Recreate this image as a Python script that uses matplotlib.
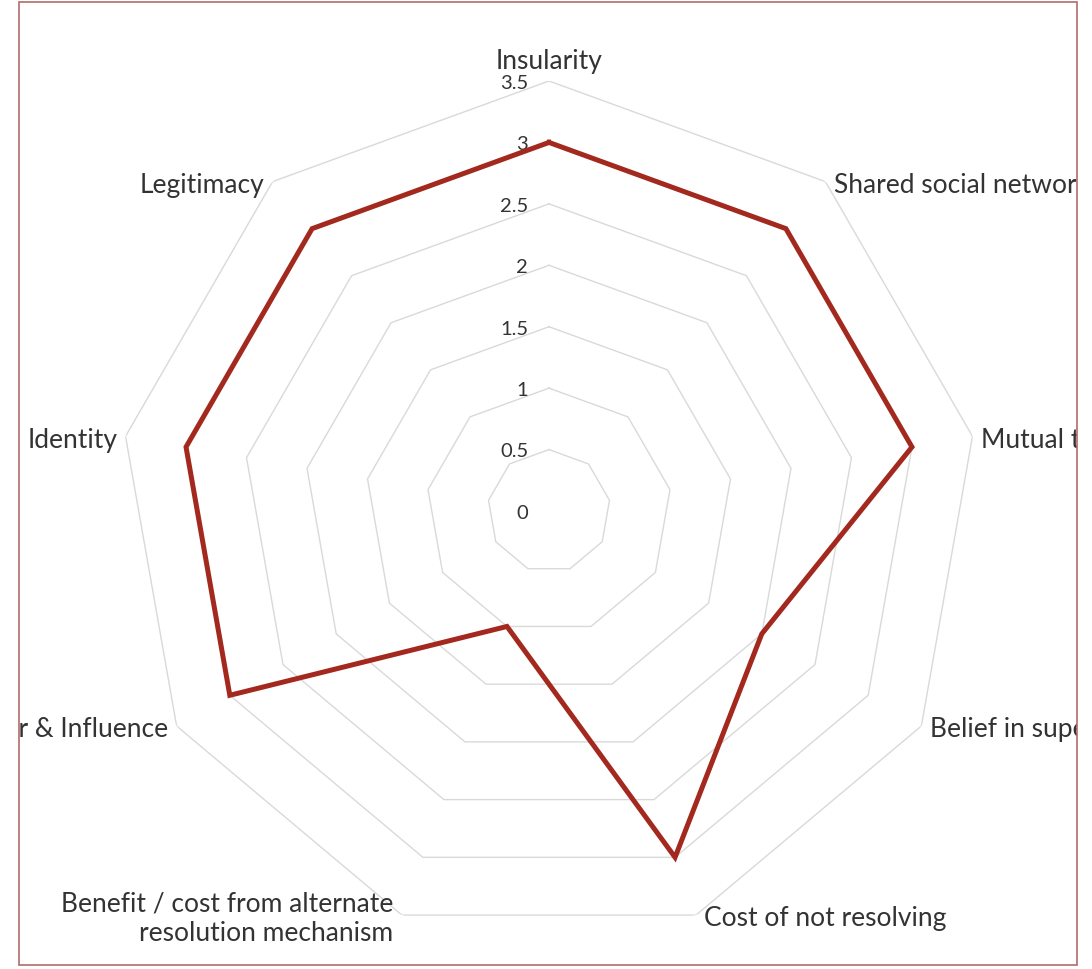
import numpy as np
import matplotlib
matplotlib.use('Agg')
import matplotlib.pyplot as plt
import matplotlib.patches as patches
from matplotlib.transforms import Bbox, TransformedBbox

plt.rcParams['font.family'] = ['Lato', 'DejaVu Sans']

# radar data, clockwise from the top
categories = ['Insularity', 'Shared social networks', 'Mutual trust',
              'Belief in superiority', 'Cost of not resolving',
              'Benefit / cost from alternate\nresolution mechanism',
              'Power & Influence', 'Identity', 'Legitimacy']
values = [3, 3, 3, 2, 3, 1, 3, 3, 3]
ticks = [0, 0.5, 1, 1.5, 2, 2.5, 3, 3.5]
tick_labels = ['0', '0.5', '1', '1.5', '2', '2.5', '3', '3.5']

W, H = 1092, 970
fig = plt.figure(figsize=(W / 100, H / 100), dpi=100)

# chart border (picture is cropped, labels clip at it)
bl, bt, br, bb = 19, 3, 1077, 966
border = Bbox([[bl / W, 1 - bb / H], [br / W, 1 - bt / H]])
fig.patches.append(patches.Rectangle((bl / W, 1 - bb / H), (br - bl) / W, (bb - bt) / H,
                                     transform=fig.transFigure, fill=False,
                                     edgecolor='#B36B68', linewidth=1.2))
clipbox = TransformedBbox(border, fig.transFigure)

cx, cy, R = 549, 512, 430
ax = fig.add_axes([(cx - R) / W, (H - cy - R) / H, 2 * R / W, 2 * R / H], projection='polar')
ax.set_theta_zero_location('N')
ax.set_theta_direction(-1)
ax.set_ylim(0, 3.5)
ax.grid(False)
ax.spines['polar'].set_visible(False)
ax.set_xticks([])
ax.set_yticks([])
ax.patch.set_alpha(0)

n = len(categories)
theta = np.arange(n) * 2 * np.pi / n
theta_c = np.append(theta, theta[0])

# polygon gridlines
for t in ticks[1:]:
    ax.plot(theta_c, [t] * (n + 1), color='#D9D9D9', linewidth=1.0, zorder=1)

# tick labels along the vertical axis
for t, lab in zip(ticks, tick_labels):
    ax.annotate(lab, xy=(0, t), xytext=(-15, -1), textcoords='offset points',
                ha='right', va='center', fontsize=14.5, color='#333333')

# data line
vals_c = values + [values[0]]
ax.plot(theta_c, vals_c, color='#A3291F', linewidth=3.6, solid_joinstyle='miter', zorder=3)

# category labels
for th, lab in zip(theta, categories):
    deg = np.degrees(th)
    if abs(deg) < 1:
        off, ha, va = (0, 6), 'center', 'bottom'
    elif deg < 180:
        off, ha, va = (6, -2), 'left', 'center'
    else:
        off, ha, va = (-6, -2), 'right', 'center'
    txt = ax.annotate(lab, xy=(th, 3.5), xytext=off, textcoords='offset points',
                      ha=ha, va=va, multialignment=ha if ha != 'center' else 'center',
                      fontsize=19, color='#333333', annotation_clip=False)
    txt.set_clip_on(True)
    txt.set_clip_box(clipbox)

fig.savefig('out.png', dpi=100, facecolor='white')
